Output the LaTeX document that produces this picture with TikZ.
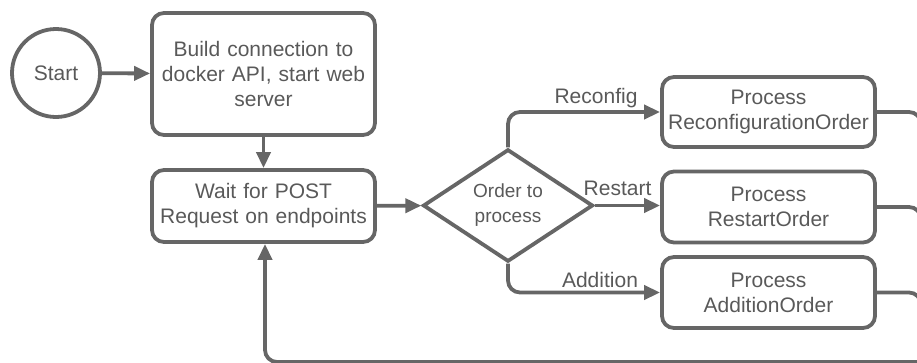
\documentclass[tikz,border=0pt]{standalone}
\usepackage{fontspec}
\setmainfont{Liberation Sans}
\usetikzlibrary{shapes.geometric,arrows.meta}
\definecolor{lc}{HTML}{666666}
\definecolor{tc}{HTML}{595959}
\begin{document}
\begin{tikzpicture}[x=1pt,y=-1pt,line width=3.8pt,
  box/.style={draw=lc, rounded corners=12pt, align=center, inner sep=0pt, text=tc,
    font=\fontsize{21}{25}\selectfont},
  arr/.style={draw=lc, -{Triangle[length=16pt,width=14pt]}},
  link/.style={draw=lc, rounded corners=12pt},
  lbl/.style={text=tc, font=\fontsize{21}{25}\selectfont, inner sep=0pt}]
\useasboundingbox (0,0) rectangle (917,362);
\clip (0,0) rectangle (917,362);
\node[draw=lc, circle, minimum size=88pt, inner sep=0pt, text=tc,
  font=\fontsize{21}{25}\selectfont] (start) at (56,73) {Start};
\node[box, minimum width=223pt, minimum height=122pt, text width=215pt] (build) at (263.5,74)
  {Build connection to\\docker API, start web\\server};
\node[box, minimum width=223pt, minimum height=72pt, text width=215pt] (wait) at (263.5,206)
  {Wait for POST\\Request on endpoints};
\node[draw=lc, diamond, minimum width=170pt, minimum height=104pt, inner sep=0pt, text=tc,
  align=center, font=\fontsize{19}{25}\selectfont] (order) at (508,205.5) {Order to\\process};
\node[box, minimum width=213pt, minimum height=70pt, text width=209pt] (reconf) at (768.5,112)
  {Process\\ReconfigurationOrder};
\node[box, minimum width=213pt, minimum height=71pt, text width=209pt] (restart) at (768.5,207)
  {Process\\RestartOrder};
\node[box, minimum width=213pt, minimum height=71pt, text width=209pt] (addition) at (768.5,292.5)
  {Process\\AdditionOrder};
\node[lbl] (lrec) at (596,98) {Reconfig};
\node[lbl] (lres) at (617.5,188) {Restart};
\node[lbl] (ladd) at (600,280) {Addition};
\coordinate (rc) at (921,362);
\coordinate (lc0) at (265,362);
\draw[arr] (start) -- (build);
\draw[arr] (build) -- (wait);
\draw[arr] (wait) -- (order);
\draw[arr, rounded corners=12pt] (order.north) |- (reconf.west);
\draw[arr] (order.east) -- (order.east -| restart.west);
\draw[arr, rounded corners=12pt] (order.south) |- (addition.west);
\draw[link] (reconf.east) -| (rc);
\draw[link] (restart.east) -| (rc);
\draw[link] (addition.east) -| (rc);
\draw[arr, rounded corners=12pt] (rc) -- (lc0) -- (wait.south -| lc0);
\end{tikzpicture}
\end{document}
